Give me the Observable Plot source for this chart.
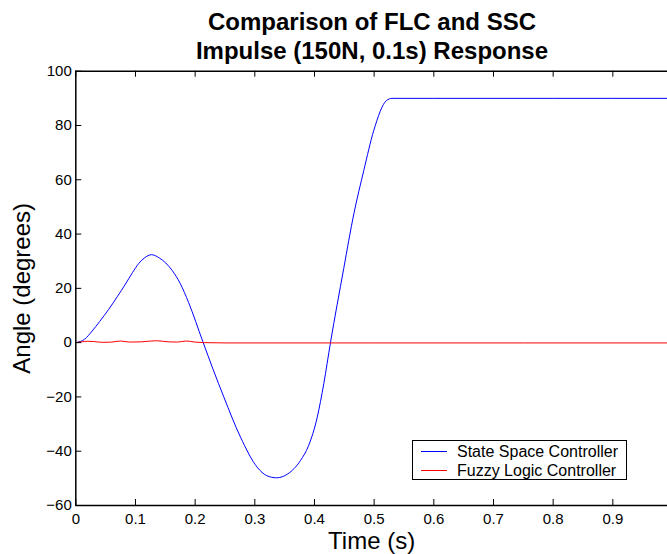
<!DOCTYPE html>
<html>
<head>
<meta charset="utf-8">
<script src="https://cdn.jsdelivr.net/npm/d3@7"></script>
<script src="https://cdn.jsdelivr.net/npm/@observablehq/plot@0.6"></script>
<style>
  body { margin: 0; background: #fff; }
  #wrap { position: relative; width: 667px; height: 554px; font-family: "Liberation Sans", Arial, sans-serif; color: #000; }
  #wrap svg { position: absolute; left: 0; top: 0; }
  #title { position: absolute; left: 75px; width: 594px; top: 7px; text-align: center; font-weight: bold; font-size: 24px; line-height: 29px; }
  #legend { position: absolute; left: 412px; top: 440px; width: 215px; height: 40px; border: 1px solid #000; background: #fff; box-sizing: border-box; font-size: 16px; }
  .row { position: absolute; left: 0; height: 19px; line-height: 19px; }
  .swatch { position: absolute; left: 8px; width: 26px; top: 9px; height: 0; border-top: 1px solid; }
  .lbl { position: absolute; left: 44px; top: 0; white-space: nowrap; }
</style>
</head>
<body>
<div id="wrap">
  <div id="title">Comparison of FLC and SSC<br>Impulse (150N, 0.1s) Response</div>
</div>
<script>
// State Space Controller response
const sscTime = [0, 0.015, 0.0275, 0.04, 0.0553, 0.07, 0.0833, 0.095, 0.1056, 0.115, 0.127, 0.14, 0.1615, 0.175, 0.189, 0.213, 0.23, 0.248, 0.276, 0.304, 0.32, 0.3364, 0.355, 0.3766, 0.39, 0.4046, 0.4156, 0.4268, 0.449, 0.466, 0.4826, 0.4994, 0.5207, 0.53, 0.6, 0.8, 1.0];
const sscAngle = [0, 1.3, 4.3, 7.8, 12.3, 17.1, 21.6, 25.8, 29.2, 31.2, 32.4, 31.2, 26.6, 21.8, 14.8, 0.3, -9.8, -20, -34.8, -45.9, -49, -49.8, -48.4, -43.4, -38, -27.5, -15.1, 0, 27.3, 47.5, 63.4, 78.2, 89.2, 90, 90, 90, 90];
// Fuzzy Logic Controller response
const flcTime = [0, 0.01, 0.02, 0.03, 0.045, 0.06, 0.075, 0.09, 0.11, 0.135, 0.155, 0.17, 0.185, 0.2, 0.215, 0.25, 0.5, 1.0];
const flcAngle = [0, 0.3, 0.5, 0.4, 0.1, 0.2, 0.6, 0.2, 0.3, 0.7, 0.3, 0.2, 0.6, 0.2, 0.0, -0.1, -0.1, -0.1];
const xTicks = [0, 0.1, 0.2, 0.3, 0.4, 0.5, 0.6, 0.7, 0.8, 0.9];
const yTicks = [-60, -40, -20, 0, 20, 40, 60, 80, 100];
const seriesNames = ["State Space Controller", "Fuzzy Logic Controller"];
const seriesColors = ["#0000ff", "#ff0000"];

const ssc = sscTime.map((t, i) => ({t, v: sscAngle[i]}));
const flc = flcTime.map((t, i) => ({t, v: flcAngle[i]}));
const fmtY = d => d < 0 ? "\u2212" + (-d) : String(d);

const W = 667, H = 554, ML = 75.3, MR = 0, MT = 70.7, MB = 49;
const xDomain = [0, 0.9916], yDomain = [-60, 100];
const tickPx = 6;
// tick length converted to data units through the scale extents
const tickDY = tickPx * (yDomain[1] - yDomain[0]) / (H - MT - MB);
const tickDX = tickPx * (xDomain[1] - xDomain[0]) / (W - ML - MR);

const chart = Plot.plot({
  width: W,
  height: H,
  marginLeft: ML,
  marginRight: MR,
  marginTop: MT,
  marginBottom: MB,
  style: {fontFamily: "Liberation Sans, Arial, sans-serif", fontSize: "15px", background: "white", color: "black", overflow: "hidden"},
  x: {domain: xDomain},
  y: {domain: yDomain},
  marks: [
    Plot.lineY(ssc, {x: "t", y: "v", stroke: seriesColors[0], strokeWidth: 1, curve: "monotone-x", clip: true}),
    Plot.lineY(flc, {x: "t", y: "v", stroke: seriesColors[1], strokeWidth: 1, curve: "monotone-x", clip: true}),
    // tick labels
    Plot.axisX({anchor: "bottom", ticks: xTicks, tickSize: 0, tickPadding: 8, tickFormat: d => String(d), label: null}),
    Plot.axisY({anchor: "left", ticks: yTicks, tickSize: 0, tickPadding: 4, tickFormat: fmtY, label: null}),
    // inward ticks (MATLAB style)
    Plot.ruleX(xTicks, {x: d => d, y1: yDomain[0], y2: yDomain[0] + tickDY, stroke: "black", strokeWidth: 1}),
    Plot.ruleX(xTicks, {x: d => d, y1: yDomain[1] - tickDY, y2: yDomain[1], stroke: "black", strokeWidth: 1}),
    Plot.ruleY(yTicks, {y: d => d, x1: xDomain[0], x2: xDomain[0] + tickDX, stroke: "black", strokeWidth: 1}),
    // axes box (right edge lies beyond the visible area)
    Plot.ruleX([xDomain[0]], {stroke: "black", strokeWidth: 1.5}),
    Plot.ruleY(yDomain, {stroke: "black", strokeWidth: 1.5}),
    Plot.text(["Angle (degrees)"], {text: d => d, frameAnchor: "left", textAnchor: "middle", lineAnchor: "middle", rotate: -90, dx: -53, fontSize: 24}),
    Plot.text(["Time (s)"], {text: d => d, frameAnchor: "bottom", textAnchor: "middle", lineAnchor: "middle", dy: 36, fontSize: 24})
  ]
});
const wrap = document.getElementById("wrap");
wrap.insertBefore(chart, wrap.firstChild);

const legend = document.createElement("div");
legend.id = "legend";
seriesNames.forEach((name, i) => {
  const row = document.createElement("div");
  row.className = "row";
  row.style.top = (1 + i * 18.6) + "px";
  row.style.width = "100%";
  row.innerHTML = `<div class="swatch" style="border-color:${seriesColors[i]}"></div><div class="lbl">${name}</div>`;
  legend.appendChild(row);
});
wrap.appendChild(legend);
</script>
</body>
</html>
